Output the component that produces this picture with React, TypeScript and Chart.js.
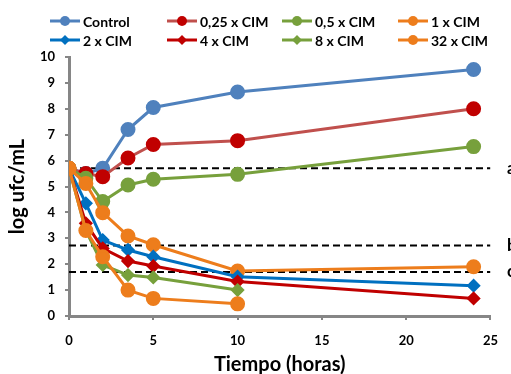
import React, { useEffect, useRef } from "react";
import { Chart, registerables } from "chart.js";
Chart.register(...registerables);

const times = [0, 1, 2, 3.5, 5, 10, 24];
const control = [5.7, 5.5, 5.7, 7.2, 8.05, 8.65, 9.52];
const cim025 = [5.7, 5.5, 5.38, 6.1, 6.62, 6.77, 8.0];
const cim05 = [5.7, 5.32, 4.42, 5.06, 5.28, 5.47, 6.54];
const cim1 = [5.7, 5.12, 3.99, 3.09, 2.75, 1.74, 1.9];
const cim2 = [5.7, 4.35, 2.93, 2.55, 2.29, 1.52, 1.17];
const cim4 = [5.7, 3.58, 2.61, 2.12, 1.93, 1.33, 0.68];
const cim8 = [5.7, 3.3, 1.97, 1.58, 1.49, 1.0];
const cim32 = [5.7, 3.3, 2.29, 1.0, 0.68, 0.47];

const refLabels = ["a", "b", "c"];
const refValues = [5.7, 2.72, 1.7];
const refRange = [0, 25];

const xTicks = [0, 5, 10, 15, 20, 25];

const seriesNames = ["Control", "0,25 x CIM", "0,5 x CIM", "1 x CIM", "2 x CIM", "4 x CIM", "8 x CIM", "32 x CIM"];
const seriesValues = [control, cim025, cim05, cim1, cim2, cim4, cim8, cim32];
const lineColors = ["#4f81bd", "#c0504d", "#77a03c", "#ed7d1c", "#0070c0", "#c00000", "#77a03c", "#ed7d1c"];
const pointColors = ["#4f81bd", "#c00000", "#77a03c", "#ed7d1c", "#0070c0", "#c00000", "#77a03c", "#ed7d1c"];
const pointStyles = ["circle", "circle", "circle", "circle", "rectRot", "rectRot", "rectRot", "circle"];

const FONT = "Lato, 'Open Sans', sans-serif";

const overlayPlugin = {
  id: "overlay",
  afterDraw(chart: any) {
    const ctx = chart.ctx;
    ctx.save();
    // legend
    const colX = [50, 167, 282, 398];
    const rowY = [21, 40];
    for (let i = 0; i < seriesNames.length; i++) {
      const col = i % 4;
      const row = Math.floor(i / 4);
      const x = colX[col];
      const y = rowY[row];
      ctx.strokeStyle = lineColors[i];
      ctx.lineWidth = 3;
      ctx.beginPath();
      ctx.moveTo(x, y);
      ctx.lineTo(x + 30, y);
      ctx.stroke();
      ctx.fillStyle = pointColors[i];
      ctx.beginPath();
      if (pointStyles[i] === "circle") {
        ctx.arc(x + 15, y, 5, 0, Math.PI * 2);
      } else {
        ctx.moveTo(x + 15, y - 5);
        ctx.lineTo(x + 20, y);
        ctx.lineTo(x + 15, y + 5);
        ctx.lineTo(x + 10, y);
        ctx.closePath();
      }
      ctx.fill();
      ctx.fillStyle = "#000";
      ctx.font = "bold 14px " + FONT;
      ctx.textBaseline = "middle";
      ctx.textAlign = "left";
      ctx.fillText(seriesNames[i], x + 33, y + 1);
    }
    // reference labels
    const ys = chart.scales.y;
    ctx.font = "bold 17px " + FONT;
    ctx.fillStyle = "#000";
    ctx.textBaseline = "middle";
    for (let i = 0; i < refLabels.length; i++) {
      ctx.fillText(refLabels[i], 507, ys.getPixelForValue(refValues[i]));
    }
    ctx.restore();
  },
};

export default function App() {
  const ref = useRef<HTMLCanvasElement>(null);
  useEffect(() => {
    const datasets: any[] = [];
    seriesNames.forEach((name, i) => {
      datasets.push({
        label: name,
        data: seriesValues[i].map((v, j) => ({ x: times[j], y: v })),
        borderColor: lineColors[i],
        backgroundColor: pointColors[i],
        pointBackgroundColor: pointColors[i],
        pointBorderColor: pointColors[i],
        pointStyle: pointStyles[i],
        pointRadius: pointStyles[i] === "circle" ? 6 : 5,
        borderWidth: 3,
        showLine: true,
        order: 10 - i,
      });
    });
    refValues.forEach((v, i) => {
      datasets.push({
        label: refLabels[i],
        data: refRange.map((x) => ({ x, y: v })),
        borderColor: "#000",
        borderWidth: 2,
        borderDash: [7, 4],
        pointRadius: 0,
        showLine: true,
        order: 20,
      });
    });
    const chart = new Chart(ref.current!, {
      type: "scatter",
      data: { datasets },
      options: {
        animation: false,
        responsive: false,
        layout: { padding: { top: 57, right: 12, left: 0, bottom: 0 } },
        plugins: { legend: { display: false }, tooltip: { enabled: false } },
        scales: {
          x: {
            type: "linear",
            min: 0,
            max: 25,
            afterBuildTicks: (s: any) => {
              s.ticks = xTicks.map((v) => ({ value: v }));
            },
            afterFit: (s: any) => {
              s.height = 58;
            },
            border: { color: "#868686", width: 3 },
            grid: { drawOnChartArea: false, drawTicks: true, tickLength: 4, color: "#868686", lineWidth: 2 },
            ticks: { color: "#000", font: { family: FONT, size: 13, weight: "bold" }, padding: 13 },
            title: {
              display: true,
              text: "Tiempo (horas)",
              color: "#000",
              font: { family: FONT, size: 20, weight: "bold" },
              padding: { top: 0, bottom: -3 },
            },
          },
          y: {
            min: 0,
            max: 10,
            afterFit: (s: any) => {
              s.width = 69;
            },
            border: { color: "#868686", width: 3 },
            grid: { drawOnChartArea: false, drawTicks: true, tickLength: 4, color: "#868686", lineWidth: 2 },
            ticks: { stepSize: 1, color: "#000", font: { family: FONT, size: 13, weight: "bold" }, padding: 10 },
            title: {
              display: true,
              text: "log ufc/mL",
              color: "#000",
              font: { family: FONT, size: 20, weight: "bold" },
              padding: { top: 6, bottom: 0 },
            },
          },
        },
      },
      plugins: [overlayPlugin],
    });
    return () => chart.destroy();
  }, []);
  return (
    <div style={{ position: "fixed", left: 0, top: 0, width: 511, height: 374, background: "#fff" }}>
      <canvas ref={ref} width={511} height={374} style={{ width: 511, height: 374 }} />
    </div>
  );
}
